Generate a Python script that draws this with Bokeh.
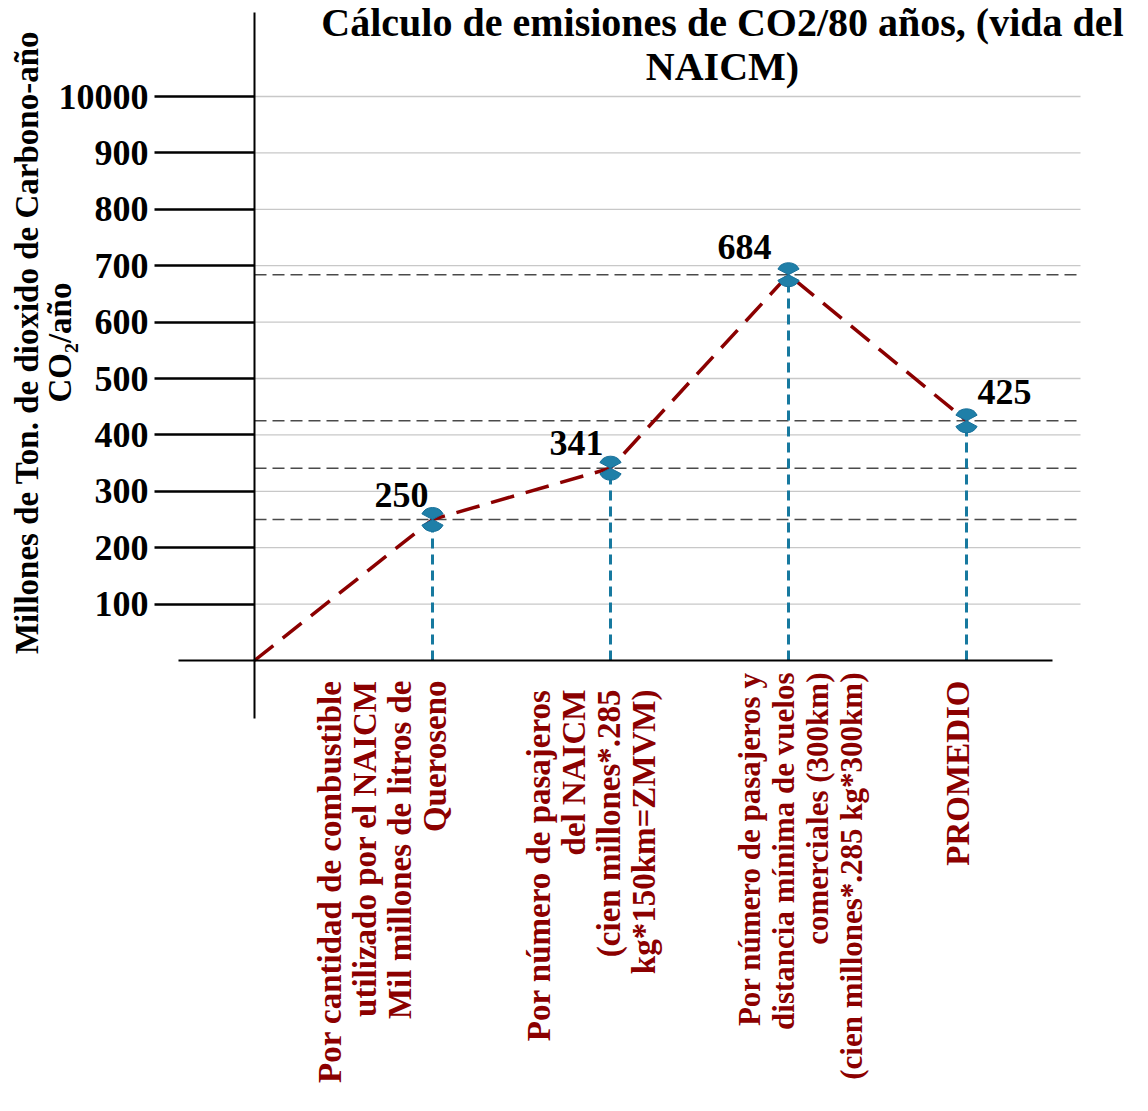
import math
from bokeh.plotting import figure
from bokeh.models import Range1d, LinearAxis, FixedTicker
from bokeh.embed import file_html
from bokeh.resources import INLINE
from bokeh.core.properties import value

# ---------------- data ----------------
title_lines = ["Cálculo de emisiones de CO2/80 años, (vida del", "NAICM)"]
y_label_lines = ["Millones de Ton. de dioxido de Carbono-año", "CO₂/año"]
categories = [
    "Por cantidad de combustible\nutilizado por el NAICM\nMil millones de litros de\nQueroseno",
    "Por número de pasajeros\ndel NAICM\n(cien millones*.285\nkg*150km=ZMVM)",
    "Por número de pasajeros y\ndistancia mínima de vuelos\ncomerciales (300km)\n(cien millones*.285 kg*300km)",
    "PROMEDIO",
]
emissions = [250, 341, 684, 425]
emission_labels = ["250", "341", "684", "425"]
y_ticks = [100, 200, 300, 400, 500, 600, 700, 800, 900, 1000]
y_tick_labels = ["100", "200", "300", "400", "500", "600", "700", "800", "900", "10000"]

# ---------------- layout ----------------
W, H = 1132, 1095
OX, OY = 254, 660          # canvas px of the origin
XSTEP = 178                # px per category
YSCALE = 0.564             # px per unit


def x_of(px):
    return (px - OX) / XSTEP


def y_of(py):
    return (OY - py) / YSCALE


cat_x = list(range(1, len(categories) + 1))

p = figure(width=W, height=H,
           x_range=Range1d(x_of(0), x_of(W)),
           y_range=Range1d(y_of(H), y_of(0)),
           output_backend="svg", toolbar_location=None,
           x_axis_type=None, y_axis_type=None,
           min_border=0, outline_line_color=None,
           background_fill_color="white", border_fill_color="white")

FONT = "Liberation Serif"

# y axis
yaxis = LinearAxis(fixed_location=0, bounds=(y_of(718), y_of(12)),
                   ticker=FixedTicker(ticks=y_ticks),
                   major_label_overrides={t: l for t, l in zip(y_ticks, y_tick_labels)},
                   major_tick_out=100, major_tick_in=0,
                   minor_tick_out=0, minor_tick_in=0,
                   axis_line_width=2, axis_line_color="black",
                   major_tick_line_width=2.5, major_tick_line_color="black",
                   major_label_standoff=6,
                   major_label_text_font=FONT, major_label_text_font_style="bold",
                   major_label_text_font_size="36px", major_label_text_color="black")
p.add_layout(yaxis, "left")

# x axis
xaxis = LinearAxis(fixed_location=0, bounds=(x_of(178), x_of(1052)),
                   ticker=FixedTicker(ticks=[]),
                   major_tick_out=0, major_tick_in=0, minor_tick_out=0, minor_tick_in=0,
                   major_label_text_font_size="0px",
                   axis_line_width=2, axis_line_color="black")
p.add_layout(xaxis, "below")

x_right = x_of(1080)

# gridlines
p.segment(x0=[0] * len(y_ticks), y0=y_ticks, x1=[x_right] * len(y_ticks), y1=y_ticks,
          line_color="#c8c8c8", line_width=1.3)

# dashed level lines
p.segment(x0=[0] * len(emissions), y0=emissions, x1=[x_right] * len(emissions), y1=emissions,
          line_color="#4a4a4a", line_width=1.4, line_dash="12 6")

# vertical drop lines
p.segment(x0=cat_x, y0=[0] * len(cat_x), x1=cat_x, y1=emissions,
          line_color="#17799f", line_width=3, line_dash="10 6")

# main red dashed line (from origin)
p.line(x=[0] + cat_x, y=[0] + emissions, line_color="#8b0000", line_width=3.5,
       line_dash="24 12")

# markers: two fans (top and bottom)
MARK_C = "#1f7fa8"
for a0, a1 in [(math.radians(28), math.radians(152)), (math.radians(208), math.radians(332))]:
    p.wedge(x=cat_x, y=emissions, radius=12, radius_units="screen",
            start_angle=a0, end_angle=a1,
            fill_color=MARK_C, line_color="#17709a", line_width=1)

# data labels (pixel offsets from their point)
lab_dx = [-31, -34, -44, 38]
lab_dy = [24.5, 25, 27.5, 29]
p.text(x=[c + dx / XSTEP for c, dx in zip(cat_x, lab_dx)],
       y=[v + dy / YSCALE for v, dy in zip(emissions, lab_dy)],
       text=emission_labels, text_font=value(FONT), text_font_style="bold",
       text_font_size="36px", text_color="black",
       text_align="center", text_baseline="middle")

# category labels (rotated)
cat_dx = [-50, -19, 12, -9]
cat_top = [680, 689, 672, 680]
cat_size = ["33px", "33px", "31px", "33px"]
p.text(x=[c + dx / XSTEP for c, dx in zip(cat_x, cat_dx)],
       y=[y_of(t) for t in cat_top],
       text=categories, angle=math.pi / 2,
       text_font=value(FONT), text_font_style="bold",
       text_font_size=cat_size, text_color="#8b0000", text_line_height=0.98,
       text_align="right", text_baseline="middle")

# y axis title (rotated, two lines)
p.text(x=[x_of(43)], y=[y_of(342)], text=["\n".join(y_label_lines)], angle=math.pi / 2,
       text_font=value(FONT), text_font_style="bold", text_font_size="33px",
       text_color="black", text_line_height=0.92,
       text_align="center", text_baseline="middle")

# title
p.text(x=[x_of(722)] * 2, y=[y_of(21.5), y_of(66)], text=title_lines,
       text_font=value(FONT), text_font_style="bold", text_font_size="40px",
       text_color="black", text_align="center", text_baseline="middle")

open("out.html", "w").write(file_html(p, INLINE))
